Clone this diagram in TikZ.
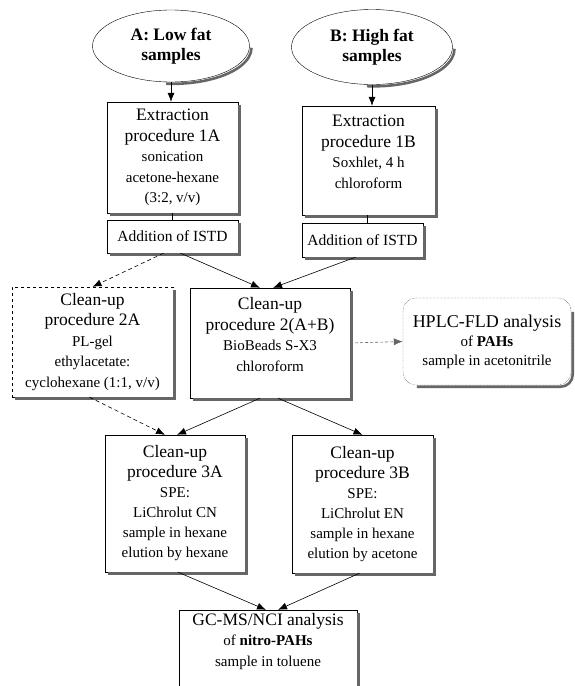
\documentclass[tikz,border=0pt]{standalone}
\usepackage{fontspec}
\setmainfont{Liberation Serif}
\usetikzlibrary{arrows.meta,shapes.geometric}
\newcommand{\mainsz}{\fontsize{17.5}{20.5}\selectfont}
\newcommand{\subsz}{\fontsize{15}{20.5}\selectfont}
\tikzset{
  samplenode/.style={draw, ellipse, fill=white, inner sep=0pt, align=center, font=\mainsz\bfseries},
  procbox/.style={draw, fill=white, inner sep=2pt, align=center, font=\mainsz},
  istdbox/.style={draw, fill=white, inner sep=2pt, align=center, font=\fontsize{15.5}{18}\selectfont},
  optbox/.style={procbox, dashed},
  resbox/.style={draw, densely dotted, rounded corners=13pt, fill=white, inner sep=2pt, align=center, font=\fontsize{18}{19}\selectfont},
  boxshadow/.style={fill=black!60, draw=none},
  arcshadow/.style={draw=black!60, line width=2.6pt},
  edge/.style={-{Latex[length=9pt,width=7pt]}, semithick},
  faintedge/.style={edge, dashed, dash pattern=on 4pt off 3pt},
  plainedge/.style={semithick}
}
\begin{document}
\begin{tikzpicture}[x=1pt, y=-1pt]
\useasboundingbox (0,0) rectangle (575,686);
\node[samplenode, minimum width=157pt, minimum height=72pt] (lowfat) at (171,46) {A: Low fat\\samples};
\node[samplenode, minimum width=161pt, minimum height=75pt] (highfat) at (372,47) {B: High fat\\samples};

\node[procbox, minimum width=131pt, minimum height=111pt] (extrA) at (172.5,157.5)
  {Extraction\\procedure 1A\\{\subsz sonication}\\{\subsz acetone-hexane}\\{\subsz (3:2, v/v)}};
\node[procbox, minimum width=133pt, minimum height=109pt, text depth=18pt] (extrB) at (368.5,160.5)
  {Extraction\\procedure 1B\\{\subsz Soxhlet, 4 h}\\{\subsz chloroform}};
\node[istdbox, minimum width=131pt, minimum height=33pt] (istdA) at (172.5,236.5) {Addition of ISTD};
\node[istdbox, minimum width=121pt, minimum height=34pt] (istdB) at (362.5,240) {Addition of ISTD};

\node[optbox, minimum width=161pt, minimum height=110pt] (clnA) at (92.5,342)
  {Clean-up\\procedure 2A\\{\subsz PL-gel}\\{\subsz ethylacetate:}\\{\subsz cyclohexane (1:1, v/v)}};
\node[procbox, minimum width=160pt, minimum height=110pt, text depth=17pt] (clnAB) at (270,343)
  {Clean-up\\procedure 2(A+B)\\{\subsz BioBeads S-X3}\\{\subsz chloroform}};
\node[resbox, minimum width=168pt, minimum height=87pt] (hplc) at (487,341.5)
  {HPLC-FLD analysis\\{\subsz of \textbf{PAHs}}\\{\subsz sample in acetonitrile}};

\node[procbox, minimum width=140pt, minimum height=137pt, font=\fontsize{17.5}{20}\selectfont] (speA) at (175,503.5)
  {Clean-up\\procedure 3A\\{\subsz SPE:}\\{\subsz LiChrolut CN}\\{\subsz sample in hexane}\\{\subsz elution by hexane}};
\node[procbox, minimum width=141pt, minimum height=138pt, font=\fontsize{17.5}{20}\selectfont] (speB) at (362.5,504)
  {Clean-up\\procedure 3B\\{\subsz SPE:}\\{\subsz LiChrolut EN}\\{\subsz sample in hexane}\\{\subsz elution by acetone}};
\node[procbox, minimum width=178pt, minimum height=90pt] (gcms) at (268,655)
  {GC-MS/NCI analysis\\{\subsz of \textbf{nitro-PAHs}}\\{\subsz sample in toluene}\\[10pt]};

% shadows
\foreach \n in {extrA,extrB,istdA,istdB,clnA,clnAB,speA,speB,gcms} {
  \fill[boxshadow] ([yshift=-3pt]\n.north east) rectangle ([xshift=3pt,yshift=-3pt]\n.south east);
  \fill[boxshadow] ([xshift=3pt]\n.south west) rectangle ([xshift=3pt,yshift=-3pt]\n.south east);
}
\draw[arcshadow, rounded corners=12pt] ([xshift=1.5pt,yshift=-14pt]hplc.north east) |- ([xshift=14pt,yshift=-1.5pt]hplc.south west);
\draw[arcshadow] ([xshift=1.8pt,yshift=-1.8pt]lowfat.east) arc[start angle=0, end angle=95, x radius=78.5, y radius=36];
\draw[arcshadow] ([xshift=1.8pt,yshift=-1.8pt]highfat.east) arc[start angle=0, end angle=95, x radius=80.5, y radius=37.5];

% extraction
\draw[edge] (lowfat.south) -- (lowfat.south |- extrA.north);
\draw[edge] (highfat.south) -- (highfat.south |- extrB.north);
\draw[plainedge] (extrA) -- (extrA |- istdA.north);
\draw[plainedge] ([xshift=-1.5pt]extrB.south) -- ([xshift=-1.5pt]extrB.south |- istdB.north);

% clean-up
\draw[faintedge] ([xshift=-9pt]istdA.south) -- (clnA.north);
\draw[edge] ([xshift=8pt]istdA.south) -- ([xshift=-10pt]clnAB.north);
\draw[edge] ([xshift=-7pt]istdB.south) -- ([xshift=3pt]clnAB.north);
\draw[faintedge, draw=black!60, dash pattern=on 3pt off 2pt] (clnAB.east) -- (hplc.west);
\draw[faintedge] ([xshift=-3pt]clnA.south) -- ([xshift=-10pt]speA.north);
\draw[edge] ([xshift=-10pt]clnAB.south) -- ([xshift=2pt]speA.north);
\draw[edge] ([xshift=8pt]clnAB.south) -- (speB.north);

% analysis
\draw[edge] ([xshift=3pt]speA.south) -- ([xshift=-2pt]gcms.north);
\draw[edge] ([xshift=-3pt]speB.south) -- ([xshift=10pt]gcms.north);
\end{tikzpicture}
\end{document}
